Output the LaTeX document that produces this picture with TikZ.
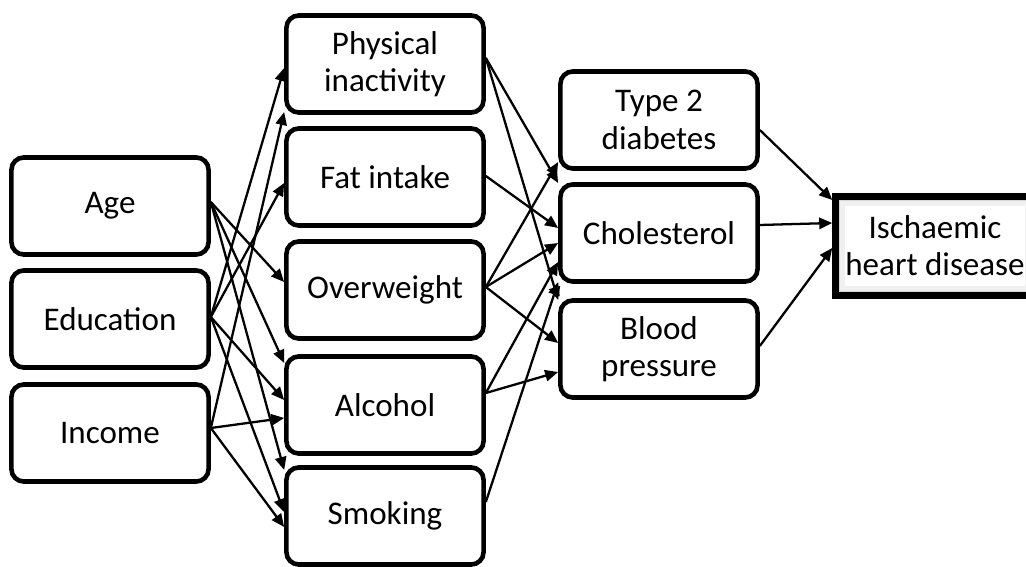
\documentclass[tikz,border=0pt]{standalone}
\usepackage{fontspec}
\setmainfont{Carlito}
\usetikzlibrary{arrows.meta,calc}

\tikzset{
  box/.style={draw,line width=1.3pt,rounded corners=3.5pt,minimum width=1.97cm,minimum height=0.97cm,
    align=center,inner sep=0pt,font=\fontsize{9.4}{10.6}\selectfont},
  ihdbox/.style={minimum width=1.98cm,minimum height=0.98cm,
    align=center,inner sep=0pt,font=\fontsize{9.4}{10.6}\selectfont},
  link/.style={->,line width=0.65pt}
}

\begin{document}
\begin{tikzpicture}[x=0.01cm,y=-0.01cm,>={Triangle[length=3.7pt,width=3.2pt]}]
\useasboundingbox (0,0) rectangle (1026,567);
% risk factors
\node[box] (age) at (110,206) {Age};
\node[box] (edu) at (110,319) {Education};
\node[box] (inc) at (110,433) {Income};
\node[box] (pi) at (385,64) {Physical\\inactivity};
\node[box] (fi) at (385,177) {Fat intake};
\node[box] (ow) at (385,290) {Overweight};
\node[box] (alc) at (385,405) {Alcohol};
\node[box] (smk) at (385,516) {Smoking};
\node[box] (t2d) at (659,120) {Type 2\\diabetes};
\node[box] (chol) at (659,233) {Cholesterol};
\node[box] (bp) at (659,349) {Blood\\pressure};
\node[ihdbox] (ihd) at (935,246) {};
\foreach \d/\c in {3/50,4.5/30,6/16,7.5/6}{
  \draw[black!\c,line width=1.5pt] ($(ihd.north west)+(\d,\d)$) rectangle ($(ihd.south east)+(-\d,-\d)$);
}
\draw[line width=1.9pt] (ihd.north west) rectangle (ihd.south east);
\node[ihdbox] at (ihd) {Ischaemic\\heart disease};

% first column
\draw[link] ($(age.east)+(0,-4)$) -- ($(ow.west)+(0,-8)$);
\draw[link] ($(age.east)+(0,-4)$) -- ($(alc.west)+(0,-42)$);
\draw[link] ($(age.east)+(0,-4)$) -- ($(smk.west)+(0,-46)$);
\draw[link] ($(edu.east)+(0,-2)$) -- ($(pi.west)+(0,4)$);
\draw[link] ($(edu.east)+(0,-2)$) -- ($(fi.west)+(0,6)$);
\draw[link] ($(edu.east)+(0,-2)$) -- ($(alc.west)+(0,-5)$);
\draw[link] ($(edu.east)+(0,-2)$) -- ($(smk.west)+(0,-4)$);
\draw[link] ($(inc.east)+(0,-5)$) -- ($(pi.west)+(0,48)$);
\draw[link] ($(inc.east)+(0,-5)$) -- ($(alc.west)+(0,13)$);
\draw[link] ($(inc.east)+(0,-5)$) -- ($(smk.west)+(0,11)$);

% second column
\draw[link] ($(pi.east)+(0,-6)$) -- ($(chol.west)+(0,-50)$);
\draw[link] ($(pi.east)+(0,-6)$) -- ($(bp.west)+(0,-49)$);
\draw[link] ($(fi.east)+(0,-1)$) -- ($(chol.west)+(0,-5)$);
\draw[link] ($(ow.east)+(0,-3)$) -- ($(t2d.west)+(0,42)$);
\draw[link] ($(ow.east)+(0,-3)$) -- ($(chol.west)+(0,10)$);
\draw[link] ($(ow.east)+(0,-3)$) -- ($(bp.west)+(0,-6)$);
\draw[link] ($(alc.east)+(0,-12)$) -- ($(chol.west)+(0,29)$);
\draw[link] ($(alc.east)+(0,-12)$) -- ($(bp.west)+(0,23)$);
\draw[link] ($(smk.east)+(0,-14)$) -- ($(chol.west)+(0,49)$);

% third column
\draw[link] ($(t2d.east)+(0,10)$) -- ($(ihd.west)+(-3,-46)$);
\draw[link] ($(chol.east)+(0,-8)$) -- ($(ihd.west)+(-3,-23)$);
\draw[link] ($(bp.east)+(0,-3)$) -- ($(ihd.west)+(-3,2)$);
\end{tikzpicture}
\end{document}
